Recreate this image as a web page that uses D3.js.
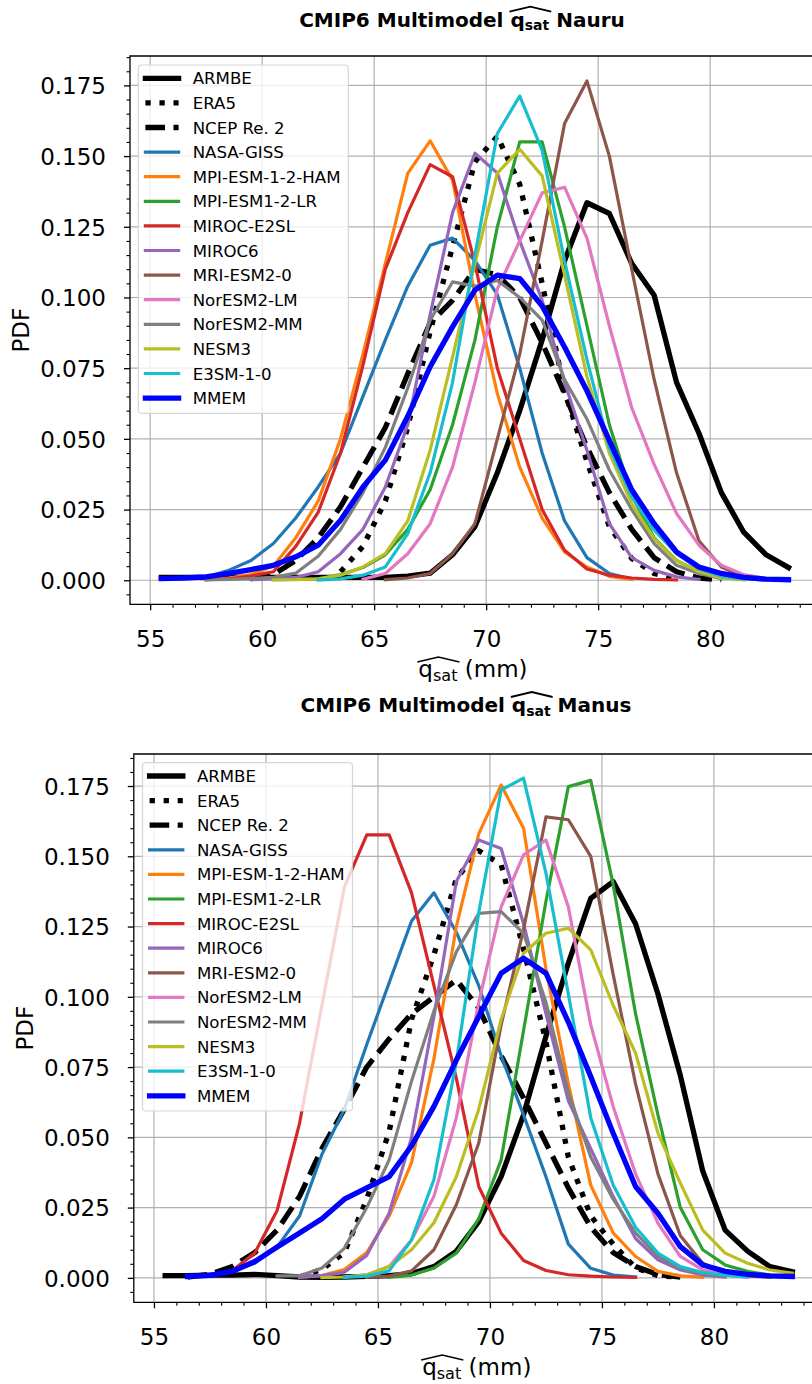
<!DOCTYPE html>
<html>
<head>
<meta charset="utf-8">
<script src="https://cdn.jsdelivr.net/npm/d3@7"></script>
<style>
  body { margin: 0; background: #fff; }
  svg { display: block; font-family: "DejaVu Sans", sans-serif; }
</style>
</head>
<body>
<svg id="fig" width="812" height="1384"></svg>
<script>
// Bin centres of the q_sat histograms (mm)
const bins = [55.5, 56.5, 57.5, 58.5, 59.5, 60.5, 61.5, 62.5, 63.5, 64.5, 65.5, 66.5, 67.5, 68.5, 69.5,
              70.5, 71.5, 72.5, 73.5, 74.5, 75.5, 76.5, 77.5, 78.5, 79.5, 80.5, 81.5, 82.5, 83.5];

const seriesNames = ["ARMBE", "ERA5", "NCEP Re. 2", "NASA-GISS", "MPI-ESM-1-2-HAM", "MPI-ESM1-2-LR",
                     "MIROC-E2SL", "MIROC6", "MRI-ESM2-0", "NorESM2-LM", "NorESM2-MM", "NESM3",
                     "E3SM-1-0", "MMEM"];

const xTickLabels = [55, 60, 65, 70, 75, 80];
const yTickLabels = [0, 0.025, 0.05, 0.075, 0.1, 0.125, 0.15, 0.175];

// ---------- Nauru PDFs ----------
const nauruARMBE = [0.001,0.001,0.001,0.001,0.001,0.001,0.001,0.001,0.001,0.001,0.001,0.0015,0.0025,0.009,0.019,0.038,0.06,0.085,0.113,0.1335,0.1297,0.112,0.1008,0.07,0.052,0.031,0.017,0.009,0.0045];
const nauruERA5 = [null,null,null,null,null,null,null,null,0.003,0.012,0.028,0.054,0.088,0.118,0.148,0.157,0.14,0.105,0.067,0.042,0.019,0.0077,0.0024,0.0004,null,null,null,null,null];
const nauruNCEP = [null,null,null,null,0.0005,0.002,0.007,0.015,0.026,0.04,0.054,0.073,0.091,0.099,0.11,0.108,0.1,0.084,0.066,0.047,0.031,0.018,0.008,0.003,0.0008,0.0002,null,null,null];
const nauruNASA = [null,null,0.001,0.0035,0.007,0.013,0.022,0.033,0.045,0.065,0.085,0.104,0.1185,0.121,0.113,0.101,0.075,0.045,0.021,0.008,0.0024,0.0005,null,null,null,null,null,null,null];
const nauruHAM = [null,null,0.0002,0.0008,0.002,0.005,0.015,0.028,0.05,0.08,0.112,0.1439,0.1554,0.1415,0.101,0.066,0.04,0.022,0.01,0.0047,0.0014,0.0003,null,null,null,null,null,null,null];
const nauruLR = [null,null,null,null,null,0.0002,0.0003,0.0005,0.002,0.0045,0.009,0.018,0.032,0.055,0.085,0.125,0.155,0.155,0.125,0.09,0.055,0.03,0.015,0.007,0.003,0.001,0.0003,null,null];
const nauruE2SL = [null,null,0.0002,0.0005,0.0015,0.003,0.012,0.024,0.045,0.076,0.11,0.13,0.147,0.1427,0.112,0.075,0.05,0.025,0.0106,0.004,0.0018,0.0008,0.0003,0.0001,null,null,null,null,null];
const nauruMIROC6 = [null,null,null,null,0.0002,0.0005,0.001,0.003,0.0094,0.018,0.033,0.055,0.094,0.13,0.151,0.144,0.12,0.099,0.07,0.046,0.02,0.008,0.0035,0.0012,0.0003,null,null,null,null];
const nauruMRI = [null,null,null,null,null,null,null,null,null,null,0.0002,0.0008,0.0024,0.0094,0.02,0.05,0.08,0.12,0.1615,0.1766,0.15,0.11,0.071,0.038,0.014,0.0047,0.0012,0.0003,null];
const nauruLM = [null,null,null,null,null,null,null,null,null,0.0003,0.0024,0.0094,0.02,0.04,0.07,0.103,0.12,0.137,0.139,0.121,0.09,0.061,0.041,0.0236,0.0124,0.0053,0.002,0.0006,0.0002];
const nauruMM = [null,null,0.0001,0.0003,0.0006,0.001,0.0025,0.0085,0.018,0.031,0.047,0.068,0.092,0.1055,0.104,0.106,0.1,0.092,0.071,0.057,0.039,0.025,0.013,0.0053,0.0024,0.0006,null,null,null];
const nauruNESM3 = [null,null,null,null,null,0.0001,0.0002,0.0005,0.0018,0.0047,0.0094,0.021,0.046,0.079,0.112,0.144,0.1524,0.143,0.108,0.072,0.045,0.027,0.0147,0.007,0.003,0.0008,0.0002,null,null];
const nauruE3SM = [null,null,null,null,null,null,null,0.0001,0.0005,0.0018,0.0047,0.0165,0.038,0.07,0.115,0.158,0.1712,0.152,0.113,0.078,0.047,0.0295,0.0177,0.0094,0.004,0.0014,0.0005,0.0001,null];
const nauruMMEM = [0.0006,0.0008,0.0012,0.0024,0.0038,0.0053,0.0083,0.0124,0.0212,0.033,0.0425,0.058,0.0755,0.0896,0.1026,0.1079,0.1067,0.097,0.0825,0.067,0.0495,0.032,0.02,0.01,0.0047,0.0024,0.001,0.0004,0.0002];

// ---------- Manus PDFs ----------
const manusARMBE = [0.0008,0.0008,0.001,0.001,0.0012,0.0008,0.0003,0.0002,0.0003,0.0005,0.0008,0.0015,0.004,0.0095,0.02,0.036,0.058,0.086,0.112,0.135,0.141,0.126,0.101,0.072,0.038,0.017,0.0095,0.004,0.0022];
const manusERA5 = [null,null,null,null,null,null,0.0003,0.003,0.009,0.028,0.052,0.092,0.115,0.142,0.152,0.147,0.117,0.084,0.043,0.022,0.012,0.0035,0.0008,0.0002,null,null,null,null,null];
const manusNCEP = [null,0.0003,0.0013,0.004,0.009,0.017,0.029,0.046,0.06,0.075,0.085,0.094,0.1,0.106,0.096,0.079,0.064,0.048,0.032,0.018,0.009,0.004,0.0012,0.0003,null,null,null,null,null];
const manusNASA = [null,null,0.0007,0.0023,0.0052,0.011,0.022,0.044,0.06,0.083,0.105,0.127,0.137,0.123,0.104,0.079,0.058,0.036,0.012,0.0034,0.001,0.0003,null,null,null,null,null,null,null];
const manusHAM = [null,null,null,null,null,null,0.0002,0.0008,0.003,0.009,0.022,0.041,0.078,0.125,0.158,0.1754,0.16,0.11,0.069,0.033,0.016,0.0076,0.0023,0.0007,0.0002,null,null,null,null];
const manusLR = [null,null,null,null,null,null,null,null,null,null,0.0002,0.001,0.0035,0.0088,0.021,0.042,0.088,0.134,0.1748,0.177,0.14,0.094,0.058,0.025,0.01,0.0046,0.0023,0.001,0.0003];
const manusE2SL = [null,null,0.0007,0.0026,0.0088,0.024,0.055,0.097,0.139,0.1576,0.1576,0.137,0.104,0.071,0.0325,0.0159,0.0062,0.0026,0.0011,0.0006,0.0003,0.0002,null,null,null,null,null,null,null];
const manusMIROC6 = [null,null,null,null,null,null,0.0002,0.0008,0.002,0.008,0.023,0.05,0.093,0.141,0.1558,0.1528,0.126,0.094,0.063,0.046,0.029,0.014,0.0064,0.0028,0.001,0.0003,null,null,null];
const manusMRI = [null,null,null,null,null,null,null,null,null,0.0002,0.0006,0.0025,0.01,0.026,0.048,0.09,0.124,0.164,0.163,0.15,0.108,0.069,0.037,0.015,0.0052,0.0019,0.0007,0.0002,null];
const manusLM = [null,null,null,null,null,null,null,null,0.0003,0.001,0.004,0.0135,0.029,0.057,0.098,0.132,0.1505,0.1558,0.132,0.09,0.061,0.037,0.0195,0.0076,0.0028,0.001,0.0003,null,null];
const manusMM = [null,null,null,null,null,0.0007,0.0007,0.0035,0.0105,0.025,0.042,0.07,0.095,0.116,0.1297,0.1303,0.1226,0.098,0.066,0.043,0.028,0.016,0.0076,0.0034,0.0014,0.0005,null,null,null];
const manusNESM3 = [null,null,null,null,null,null,null,0.0001,0.0003,0.0011,0.004,0.01,0.0196,0.036,0.06,0.092,0.1155,0.1226,0.1244,0.1167,0.097,0.08,0.0515,0.0337,0.017,0.0088,0.0052,0.0028,0.0017];
const manusE3SM = [null,null,null,null,null,null,null,null,0.0002,0.0006,0.0025,0.0135,0.035,0.077,0.13,0.1736,0.1778,0.144,0.101,0.057,0.033,0.018,0.0088,0.004,0.0019,0.001,0.0003,null,null];
const manusMMEM = [null,0.0005,0.0009,0.0023,0.0058,0.011,0.016,0.021,0.028,0.032,0.036,0.047,0.061,0.0775,0.093,0.1084,0.1137,0.1084,0.091,0.0716,0.0515,0.0325,0.023,0.0111,0.0046,0.0023,0.0012,0.0007,0.0005];

const nauruSeries = [nauruARMBE, nauruERA5, nauruNCEP, nauruNASA, nauruHAM, nauruLR, nauruE2SL,
                     nauruMIROC6, nauruMRI, nauruLM, nauruMM, nauruNESM3, nauruE3SM, nauruMMEM];
const manusSeries = [manusARMBE, manusERA5, manusNCEP, manusNASA, manusHAM, manusLR, manusE2SL,
                     manusMIROC6, manusMRI, manusLM, manusMM, manusNESM3, manusE3SM, manusMMEM];

// Line styles: observations / reanalyses in thick black, models in tab10, ensemble mean in pure blue
const THICK = 5.3, THIN = 3.2;
const seriesStyles = [
  { color: "#000000", width: THICK, dash: null },
  { color: "#000000", width: THICK, dash: [1 * THICK, 1.65 * THICK] },
  { color: "#000000", width: THICK, dash: [3.7 * THICK, 1.6 * THICK] },
  { color: "#1f77b4", width: THIN, dash: null },
  { color: "#ff7f0e", width: THIN, dash: null },
  { color: "#2ca02c", width: THIN, dash: null },
  { color: "#d62728", width: THIN, dash: null },
  { color: "#9467bd", width: THIN, dash: null },
  { color: "#8c564b", width: THIN, dash: null },
  { color: "#e377c2", width: THIN, dash: null },
  { color: "#7f7f7f", width: THIN, dash: null },
  { color: "#bcbd22", width: THIN, dash: null },
  { color: "#17becf", width: THIN, dash: null },
  { color: "#0000ff", width: THICK, dash: null }
];

const X_DOMAIN = [54.1, 84.9];
const PLOT_W = 689.9, PLOT_H = 548.3;
const TICK_FS = 23, LEGEND_FS = 16.6, TITLE_FS = 20;
const GRID = "#b0b0b0";

const panels = [
  { site: "Nauru", data: nauruSeries, left: 130, top: 56, yDomain: [-0.0085, 0.1854],
    titleX: 462, titleY: 26.7, legendX: 138.3, legendY: 65 },
  { site: "Manus", data: manusSeries, left: 133.8, top: 754, yDomain: [-0.0087, 0.1864],
    titleX: 466, titleY: 712, legendX: 142.5, legendY: 762.7 }
];

const svg = d3.select("#fig");

// Text with a q_sat subscript and a wide hat over it
function hatLabel(g, x, y, before, after, fs, weight, subShift, hatPeak, hatFoot, hatW) {
  const t = g.append("text").attr("x", x).attr("y", y).attr("text-anchor", "middle")
    .attr("font-size", fs).attr("font-weight", weight).attr("fill", "#000");
  if (before) t.append("tspan").text(before);
  t.append("tspan").text("q");
  t.append("tspan").attr("dy", subShift).attr("font-size", fs * 0.7).text("sat");
  t.append("tspan").attr("dy", -subShift).text(after);
  const node = t.node();
  const iq = before.length;
  const e0 = node.getExtentOfChar(iq);
  const e1 = node.getExtentOfChar(iq + 3);
  const x0 = e0.x - 1, x1 = e1.x + e1.width + 2;
  g.append("path")
    .attr("d", `M${x0},${y - hatFoot} L${(x0 + x1) / 2},${y - hatPeak} L${x1},${y - hatFoot}`)
    .attr("fill", "none").attr("stroke", "#000").attr("stroke-width", hatW)
    .attr("stroke-linejoin", "miter");
}

function drawPanel(p) {
  const g = svg.append("g");
  const x = d3.scaleLinear().domain(X_DOMAIN).range([p.left, p.left + PLOT_W]);
  const y = d3.scaleLinear().domain(p.yDomain).range([p.top + PLOT_H, p.top]);
  const bottom = p.top + PLOT_H;

  // grid
  g.append("g").selectAll("line").data(xTickLabels).join("line")
    .attr("x1", d => x(d)).attr("x2", d => x(d)).attr("y1", p.top).attr("y2", bottom)
    .attr("stroke", GRID).attr("stroke-width", 1.2);
  g.append("g").selectAll("line").data(yTickLabels).join("line")
    .attr("x1", p.left).attr("x2", p.left + PLOT_W).attr("y1", d => y(d)).attr("y2", d => y(d))
    .attr("stroke", GRID).attr("stroke-width", 1.2);

  // PDF curves
  const line = d3.line().defined(d => d[1] != null).x(d => x(d[0])).y(d => y(d[1]));
  seriesStyles.forEach((s, i) => {
    const pts = bins.map((b, j) => [b, p.data[i][j]]);
    g.append("path").datum(pts).attr("d", line)
      .attr("fill", "none").attr("stroke", s.color).attr("stroke-width", s.width)
      .attr("stroke-dasharray", s.dash ? s.dash.join(",") : null)
      .attr("stroke-linecap", s.dash ? "butt" : "square")
      .attr("stroke-linejoin", "round");
  });

  // spines
  const sp = g.append("g").attr("stroke", "#000").attr("stroke-width", 1.3).attr("fill", "none");
  sp.append("path").attr("d", `M${p.left},${bottom} V${p.top} H${p.left + PLOT_W} V${bottom} Z`);

  // x axis
  const xMinor = d3.range(55, 85).filter(v => v % 5 !== 0);
  const xa = g.append("g").attr("transform", `translate(0,${bottom})`)
    .call(d3.axisBottom(x).tickValues(xTickLabels).tickSize(6).tickSizeOuter(0).tickFormat(d3.format("d")));
  xa.select(".domain").remove();
  xa.selectAll("line").attr("stroke-width", 1.3);
  xa.selectAll("text").attr("y", 42.7).attr("dy", null).attr("font-size", TICK_FS)
    .attr("font-family", "DejaVu Sans").attr("fill", "#000");
  const xm = g.append("g").attr("transform", `translate(0,${bottom})`)
    .call(d3.axisBottom(x).tickValues(xMinor).tickSize(3.5).tickSizeOuter(0).tickFormat(""));
  xm.select(".domain").remove();
  xm.selectAll("line").attr("stroke-width", 1.1);

  // y axis
  const yMinor = d3.range(-0.005, 0.1851, 0.005).filter(v => Math.abs(v / 0.025 - Math.round(v / 0.025)) > 1e-6);
  const ya = g.append("g").attr("transform", `translate(${p.left},0)`)
    .call(d3.axisLeft(y).tickValues(yTickLabels).tickSize(6).tickSizeOuter(0).tickFormat(d3.format(".3f")));
  ya.select(".domain").remove();
  ya.selectAll("line").attr("stroke-width", 1.3);
  ya.selectAll("text").attr("x", -24).attr("dy", "0.36em").attr("font-size", TICK_FS)
    .attr("font-family", "DejaVu Sans").attr("fill", "#000");
  const ym = g.append("g").attr("transform", `translate(${p.left},0)`)
    .call(d3.axisLeft(y).tickValues(yMinor).tickSize(3.5).tickSizeOuter(0).tickFormat(""));
  ym.select(".domain").remove();
  ym.selectAll("line").attr("stroke-width", 1.1);

  // axis labels
  g.append("text")
    .attr("transform", `translate(${p.left - 101},${p.top + PLOT_H / 2}) rotate(-90)`)
    .attr("text-anchor", "middle").attr("font-size", TICK_FS).text("PDF");
  hatLabel(g, p.left + PLOT_W / 2 - 2, bottom + 72.2, "", " (mm)", TICK_FS, "normal", 4, 19.5, 14.5, 1.3);

  // title
  hatLabel(g, p.titleX, p.titleY, "CMIP6 Multimodel ", " " + p.site, TITLE_FS, "bold", 3.5, 20, 15, 1.8);

  // legend
  const lg = g.append("g");
  lg.append("rect").attr("x", p.legendX).attr("y", p.legendY).attr("width", 210).attr("height", 348.3)
    .attr("rx", 3.5).attr("fill", "#fff").attr("fill-opacity", 0.8)
    .attr("stroke", "#cccccc").attr("stroke-opacity", 0.8).attr("stroke-width", 1.2);
  seriesNames.forEach((name, i) => {
    const s = seriesStyles[i];
    const cy = p.legendY + 13.3 + i * 24.6;
    lg.append("line").attr("x1", p.legendX + 7.1).attr("x2", p.legendX + 40.3)
      .attr("y1", cy).attr("y2", cy)
      .attr("stroke", s.color).attr("stroke-width", s.width)
      .attr("stroke-dasharray", s.dash ? s.dash.join(",") : null)
      .attr("stroke-linecap", s.dash ? "butt" : "square");
    lg.append("text").attr("x", p.legendX + 54.4).attr("y", cy + 6)
      .attr("font-size", LEGEND_FS).attr("fill", "#000").text(name);
  });
}

panels.forEach(drawPanel);
</script>
</body>
</html>
